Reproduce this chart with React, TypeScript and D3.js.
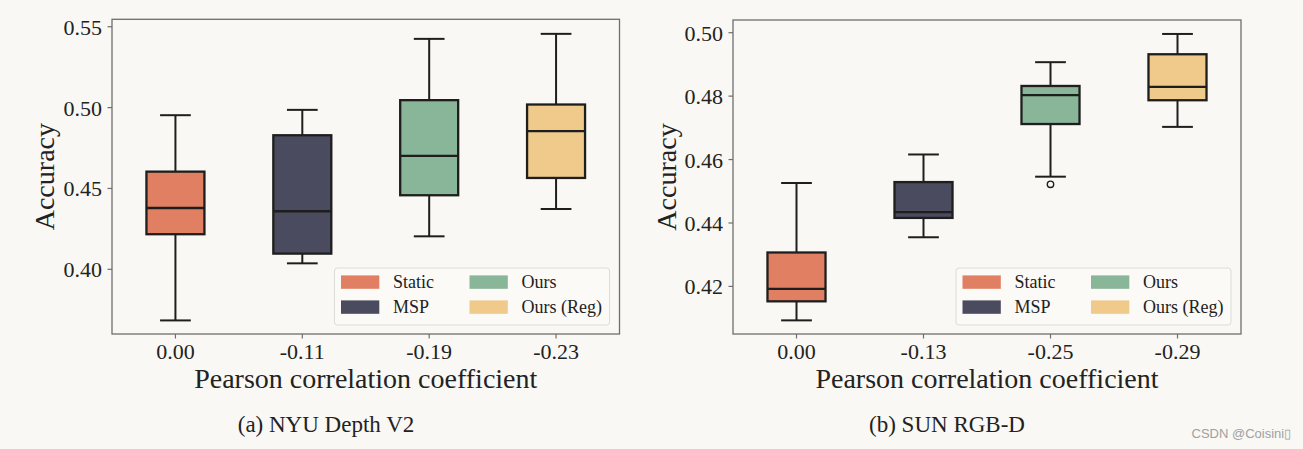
import React from "react";
import * as d3 from "d3";

const methods = ["Static", "MSP", "Ours", "Ours (Reg)"];
const methodColors = ["#E07F62", "#4A4B5E", "#89B598", "#EFCA8B"];

const nyuCategories = ["0.00", "-0.11", "-0.19", "-0.23"];
const nyuWhiskerLow = [0.3684, 0.4037, 0.4204, 0.4373];
const nyuQ1 = [0.4217, 0.4097, 0.4458, 0.4565];
const nyuMedian = [0.4379, 0.4359, 0.4701, 0.4854];
const nyuQ3 = [0.4604, 0.4829, 0.5046, 0.5019];
const nyuWhiskerHigh = [0.4953, 0.4986, 0.5425, 0.5456];
const nyuOutliers: number[][] = [[], [], [], []];
const nyuTicks = [0.4, 0.45, 0.5, 0.55];
const nyuDomain = [0.36, 0.5546];

const sunCategories = ["0.00", "-0.13", "-0.25", "-0.29"];
const sunWhiskerLow = [0.4093, 0.4355, 0.4546, 0.4703];
const sunQ1 = [0.4153, 0.4416, 0.4712, 0.4787];
const sunMedian = [0.4192, 0.4434, 0.4803, 0.4829];
const sunQ3 = [0.4307, 0.4529, 0.4832, 0.4932];
const sunWhiskerHigh = [0.4526, 0.4616, 0.4907, 0.4996];
const sunOutliers: number[][] = [[], [], [0.4522], []];
const sunTicks = [0.42, 0.44, 0.46, 0.48, 0.5];
const sunDomain = [0.405, 0.504];

const W = 1303;
const H = 449;
const BG = "#F9F8F4";
const SERIF = "'Liberation Serif', 'Times New Roman', serif";
const INK = "#1E1E1E";
const AXIS = "#6E6E6E";

type PanelProps = {
  categories: string[];
  lo: number[];
  q1: number[];
  med: number[];
  q3: number[];
  hi: number[];
  outliers: number[][];
  ticks: number[];
  domain: number[];
  x0: number;
  x1: number;
  y0: number;
  y1: number;
  ylabelX: number;
  caption: string;
  captionX: number;
};

function Panel(p: PanelProps) {
  const x = d3.scaleBand<string>().domain(p.categories).range([p.x0, p.x1]).padding(0);
  const y = d3.scaleLinear().domain(p.domain).range([p.y1, p.y0]);
  const bw = x.bandwidth() * 0.457;
  const cw = bw * 0.53;
  const fmt = d3.format(".2f");
  const legW = 275;
  const legH = 57;
  const legX = p.x1 - 10 - legW;
  const legY = p.y1 - 9 - legH;
  return (
    <g>
      {p.categories.map((c, i) => {
        const cx = (x(c) as number) + x.bandwidth() / 2;
        return (
          <g key={c}>
            <line x1={cx} x2={cx} y1={y(p.q3[i])} y2={y(p.hi[i])} stroke={INK} strokeWidth={2} />
            <line x1={cx} x2={cx} y1={y(p.q1[i])} y2={y(p.lo[i])} stroke={INK} strokeWidth={2} />
            <line x1={cx - cw / 2} x2={cx + cw / 2} y1={y(p.hi[i])} y2={y(p.hi[i])} stroke={INK} strokeWidth={2} />
            <line x1={cx - cw / 2} x2={cx + cw / 2} y1={y(p.lo[i])} y2={y(p.lo[i])} stroke={INK} strokeWidth={2} />
            <rect
              x={cx - bw / 2}
              y={y(p.q3[i])}
              width={bw}
              height={y(p.q1[i]) - y(p.q3[i])}
              fill={methodColors[i]}
              stroke={INK}
              strokeWidth={2.3}
            />
            <line x1={cx - bw / 2} x2={cx + bw / 2} y1={y(p.med[i])} y2={y(p.med[i])} stroke={INK} strokeWidth={2.3} />
            {p.outliers[i].map((o, j) => (
              <circle key={j} cx={cx} cy={y(o)} r={3.2} fill="none" stroke={INK} strokeWidth={1.4} />
            ))}
          </g>
        );
      })}
      <rect x={p.x0} y={p.y0} width={p.x1 - p.x0} height={p.y1 - p.y0} fill="none" stroke={AXIS} strokeWidth={1.3} />
      {p.ticks.map((t) => (
        <g key={t}>
          <line x1={p.x0 - 4.5} x2={p.x0} y1={y(t)} y2={y(t)} stroke={AXIS} strokeWidth={1.2} />
          <text x={p.x0 - 10} y={y(t) + 8} textAnchor="end" fontSize={22} fill="#222" fontFamily={SERIF}>
            {fmt(t)}
          </text>
        </g>
      ))}
      {p.categories.map((c) => {
        const cx = (x(c) as number) + x.bandwidth() / 2;
        return (
          <g key={"xt" + c}>
            <line x1={cx} x2={cx} y1={p.y1} y2={p.y1 + 4.5} stroke={AXIS} strokeWidth={1.2} />
            <text x={cx} y={p.y1 + 24.5} textAnchor="middle" fontSize={22} fill="#222" fontFamily={SERIF}>
              {c}
            </text>
          </g>
        );
      })}
      <text
        transform={`translate(${p.ylabelX},${(p.y0 + p.y1) / 2}) rotate(-90)`}
        textAnchor="middle"
        fontSize={28}
        fill="#222"
        fontFamily={SERIF}
      >
        Accuracy
      </text>
      <text x={(p.x0 + p.x1) / 2} y={388} textAnchor="middle" fontSize={28} fill="#222" fontFamily={SERIF}>
        Pearson correlation coefficient
      </text>
      <text x={p.captionX} y={432} textAnchor="middle" fontSize={23} fill="#222" fontFamily={SERIF}>
        {p.caption}
      </text>
      <g transform={`translate(${legX},${legY})`}>
        <rect x={0} y={0} width={legW} height={legH} rx={3} fill="#FBFAF7" stroke="#DCDCDC" strokeWidth={1} />
        {methods.map((m, i) => {
          const col = i < 2 ? 0 : 1;
          const row = i % 2;
          const px = 6.5 + col * 128.5;
          const py = 7.4 + row * 25;
          return (
            <g key={m}>
              <rect x={px} y={py} width={38.3} height={13.4} fill={methodColors[i]} />
              <text x={px + 52} y={py + 12.5} fontSize={18} fill="#222" fontFamily={SERIF}>
                {m}
              </text>
            </g>
          );
        })}
      </g>
    </g>
  );
}

export default function App() {
  return (
    <svg
      width={W}
      height={H}
      viewBox={`0 0 ${W} ${H}`}
      style={{ position: "absolute", left: 0, top: 0, display: "block" }}
    >
      <rect x={0} y={0} width={W} height={H} fill={BG} />
      <Panel
        categories={nyuCategories}
        lo={nyuWhiskerLow}
        q1={nyuQ1}
        med={nyuMedian}
        q3={nyuQ3}
        hi={nyuWhiskerHigh}
        outliers={nyuOutliers}
        ticks={nyuTicks}
        domain={nyuDomain}
        x0={112}
        x1={619.5}
        y0={19.3}
        y1={334}
        ylabelX={54}
        caption="(a) NYU Depth V2"
        captionX={326}
      />
      <Panel
        categories={sunCategories}
        lo={sunWhiskerLow}
        q1={sunQ1}
        med={sunMedian}
        q3={sunQ3}
        hi={sunWhiskerHigh}
        outliers={sunOutliers}
        ticks={sunTicks}
        domain={sunDomain}
        x0={733}
        x1={1241}
        y0={20}
        y1={334}
        ylabelX={675.5}
        caption="(b) SUN RGB-D"
        captionX={947}
      />
      <text x={1191.5} y={438} fontSize={13} fill="#A0A0A0" fontFamily="'Liberation Sans', Arial, sans-serif">
        CSDN @Coisini▯
      </text>
    </svg>
  );
}
